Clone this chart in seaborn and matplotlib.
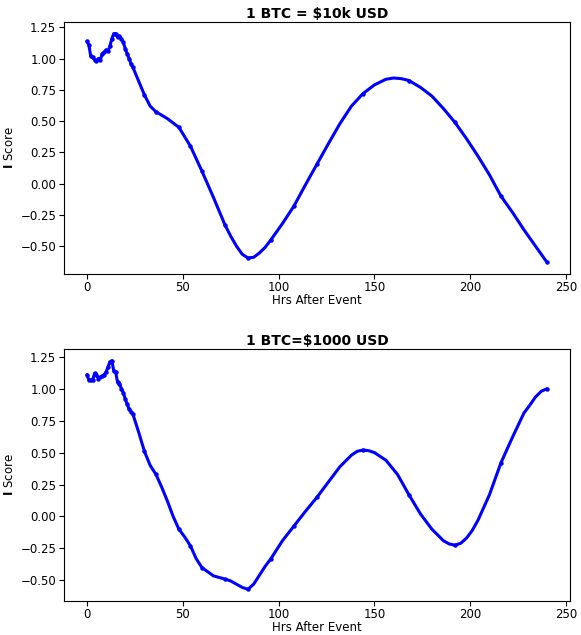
import matplotlib
matplotlib.use("Agg")
import matplotlib.pyplot as plt
import seaborn as sns
import numpy as np

# --- datos ---
hrs_a = [0, 1, 2, 3, 4, 5, 6, 7, 8, 9, 10, 11, 12, 13, 14, 15, 16, 17, 18, 19, 20, 21, 22, 23, 24,
         27, 30, 33, 36, 42, 48, 54, 60, 66, 72, 75, 78, 81, 84, 87, 90, 93, 96, 102, 108, 114, 120,
         126, 132, 138, 144, 150, 156, 160, 164, 168, 174, 180, 186, 192, 198, 204, 210, 216, 222,
         228, 234, 240]
score_a = [1.14, 1.11, 1.02, 1.01, 0.99, 0.98, 1.00, 0.99, 1.04, 1.05, 1.07, 1.06, 1.10, 1.16, 1.20,
           1.20, 1.17, 1.18, 1.16, 1.13, 1.08, 1.04, 1.00, 0.96, 0.93,
           0.82, 0.71, 0.62, 0.575, 0.52, 0.45, 0.30, 0.10, -0.11, -0.33, -0.42, -0.50, -0.565, -0.595,
           -0.59, -0.555, -0.51, -0.45, -0.32, -0.18, -0.01, 0.155, 0.32, 0.48, 0.62, 0.72, 0.79,
           0.835, 0.845, 0.84, 0.825, 0.77, 0.70, 0.60, 0.49, 0.36, 0.22, 0.07, -0.10, -0.23, -0.37,
           -0.50, -0.63]

hrs_b = [0, 1, 2, 3, 4, 5, 6, 7, 8, 9, 10, 11, 12, 13, 14, 15, 16, 17, 18, 19, 20, 21, 22, 23, 24,
         27, 30, 33, 36, 39, 42, 45, 48, 51, 54, 57, 60, 66, 72, 75, 78, 81, 84, 87, 90, 93, 96, 102,
         108, 114, 120, 126, 132, 138, 141, 144, 147, 150, 156, 162, 168, 174, 180, 186, 189, 192,
         195, 198, 201, 204, 210, 216, 222, 228, 231, 234, 237, 240]
score_b = [1.11, 1.07, 1.065, 1.07, 1.12, 1.11, 1.08, 1.09, 1.10, 1.11, 1.13, 1.17, 1.21, 1.22, 1.14,
           1.13, 1.05, 1.04, 1.00, 0.97, 0.92, 0.88, 0.84, 0.82, 0.80,
           0.66, 0.51, 0.40, 0.33, 0.23, 0.12, 0.00, -0.10, -0.16, -0.23, -0.33, -0.40, -0.465, -0.49,
           -0.505, -0.53, -0.555, -0.57, -0.53, -0.46, -0.39, -0.33, -0.19, -0.075, 0.04, 0.15, 0.27,
           0.39, 0.48, 0.51, 0.52, 0.515, 0.50, 0.44, 0.33, 0.17, 0.02, -0.10, -0.19, -0.215, -0.225,
           -0.21, -0.17, -0.11, -0.03, 0.17, 0.42, 0.62, 0.81, 0.87, 0.935, 0.98, 1.00]

# horas con punto visible en el original
hrs_marcas = [0, 1, 2, 3, 4, 5, 6, 7, 8, 9, 10, 11, 12, 13, 14, 15, 16, 17, 18, 19, 20, 21, 22, 23, 24,
              30, 36, 48, 54, 60, 72, 84, 96, 108, 120, 144, 168, 192, 216, 240]

titulos = ["1 BTC = \\$10k USD", "1 BTC=\\$1000 USD"]

sns.set_style("ticks")
plt.rcParams['font.family'] = ['DejaVu Sans']
plt.rcParams['text.color'] = 'black'
plt.rcParams['axes.labelcolor'] = 'black'
plt.rcParams['xtick.color'] = 'black'
plt.rcParams['ytick.color'] = 'black'

fig, axes = plt.subplots(2, 1, figsize=(5.81, 6.35), dpi=100)
plt.subplots_adjust(left=0.110, right=0.981, top=0.965, bottom=0.054, hspace=0.30)

for ax, xs, ys, titulo in zip(axes, [hrs_a, hrs_b], [score_a, score_b], titulos):
    idx = [i for i, h in enumerate(xs) if h in hrs_marcas]
    sns.lineplot(x=xs, y=ys, ax=ax, color='blue', linewidth=2.2, marker='o',
                 markersize=3.2, markeredgewidth=0, markevery=idx)
    ax.set_title(titulo, fontsize=10, fontweight='bold', pad=3, color='black')
    ax.set_xlabel('Hrs After Event', fontsize=8.5, labelpad=0)
    ax.set_ylabel(r'$\mathbf{I}$ Score', fontsize=8.5, labelpad=3)
    ax.set_xticks([0, 50, 100, 150, 200, 250])
    ax.set_yticks([-0.5, -0.25, 0, 0.25, 0.5, 0.75, 1.0, 1.25])
    ax.tick_params(labelsize=8.5, length=3.5, pad=2)
    for s in ax.spines.values():
        s.set_visible(True)
        s.set_color('black')

fig.savefig('out.png', dpi=100)
